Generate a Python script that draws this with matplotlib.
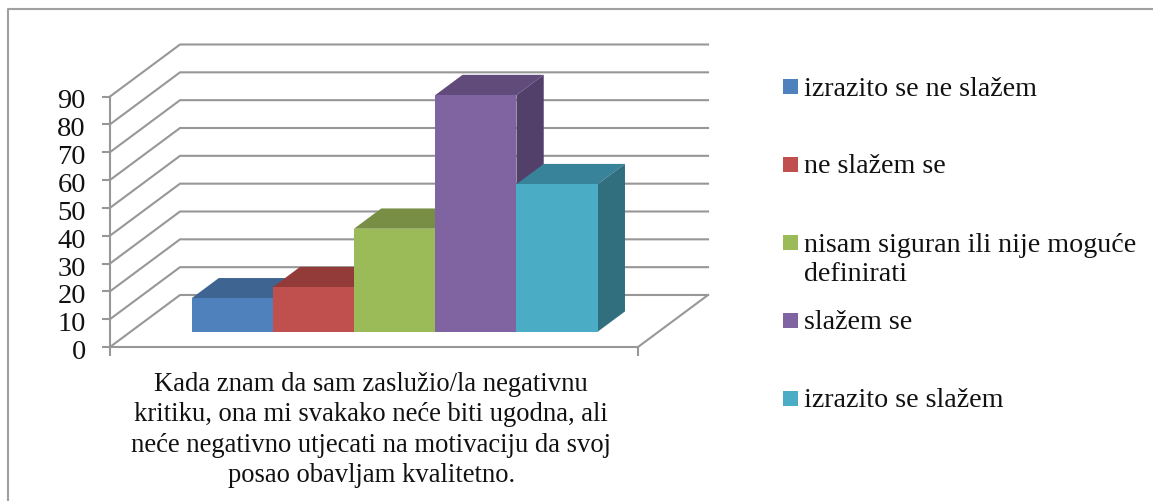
import matplotlib
matplotlib.use('Agg')
import matplotlib.pyplot as plt
from matplotlib.patches import Rectangle
from matplotlib.transforms import ScaledTranslation

## Data:
categories = ['izrazito se ne slažem', 'ne slažem se', 'nisam siguran ili nije moguće\ndefinirati', 'slažem se', 'izrazito se slažem']
values = [12, 16, 37, 85, 53]
y_ticks = [0, 10, 20, 30, 40, 50, 60, 70, 80, 90]
question = ('Kada znam da sam zaslužio/la negativnu\n'
            'kritiku, ona mi svakako neće biti ugodna, ali\n'
            'neće negativno utjecati na motivaciju da svoj\n'
            'posao obavljam kvalitetno.')

front_colors = ['#4F81BD', '#C0504D', '#9BBB59', '#8064A2', '#4BACC6']
top_colors = ['#3E6592', '#933B39', '#788E45', '#614B7B', '#38829A']
side_colors = ['#35557C', '#7E3331', '#667A3B', '#52406B', '#316E7E']

W, H = 1153, 502
GRID = '#979797'
plt.rcParams['font.family'] = ['Liberation Serif', 'DejaVu Serif']

fig = plt.figure(figsize=(W / 100, H / 100), dpi=100)

# front plane of the fake 3D box
ax = fig.add_axes([110 / W, 1 - 348 / H, 528 / W, 250.5 / H])
ax.set_xlim(-0.75, 5.75)
ax.set_ylim(0, 90)
ax.patch.set_alpha(0)

# depth of the box in data units (one bar = 81.2 px, 10 units = 27.8 px)
depth_x = 70 / 81.2
depth_y = 52 / 2.783
bar_d0 = 0.294
bar_d1 = 0.684


def shift(x, v, d):
    return x + d * depth_x, v + d * depth_y


# gridlines on side wall and back wall, floor
x0, x1 = ax.get_xlim()
for t in y_ticks:
    a = shift(x0, t, 0)
    b = shift(x0, t, 1)
    c = shift(x1, t, 1)
    ax.plot([a[0], b[0], c[0]], [a[1], b[1], c[1]], color=GRID, lw=1.5, clip_on=False, zorder=1)
a = shift(x1, 0, 0)
b = shift(x1, 0, 1)
ax.plot([a[0], b[0]], [a[1], b[1]], color=GRID, lw=1.5, clip_on=False, zorder=1)

# bars, left to right so that each one covers the one before
for i, v in enumerate(values):
    z = 2 + i
    xl, base = shift(i, 0, bar_d0)
    xr = xl + 1
    top = base + v
    dx = (bar_d1 - bar_d0) * depth_x
    dy = (bar_d1 - bar_d0) * depth_y
    ax.fill([xl, xr, xr + dx, xl + dx], [top, top, top + dy, top + dy],
            color=top_colors[i], lw=0, clip_on=False, zorder=z)
    ax.fill([xr, xr + dx, xr + dx, xr], [base, base + dy, top + dy, top],
            color=side_colors[i], lw=0, clip_on=False, zorder=z)
    ax.bar(xl, v, width=1, bottom=base, align='edge', color=front_colors[i], lw=0, zorder=z + 0.5, clip_on=False)

for s in ['top', 'right']:
    ax.spines[s].set_visible(False)
for s in ['left', 'bottom']:
    ax.spines[s].set_color(GRID)
    ax.spines[s].set_linewidth(1.5)
ax.set_yticks(y_ticks)
ax.set_xticks([x0, x1])
ax.set_xticklabels([])
ax.tick_params(axis='y', length=5.8, width=1.5, color=GRID, pad=11.5, labelsize=20.5, labelcolor='#111111')
ax.tick_params(axis='x', length=6.2, width=1.5, color=GRID, direction='out')

# tick labels sit a little under their ticks in the original
for lab in ax.get_yticklabels():
    lab.set_transform(lab.get_transform() + ScaledTranslation(0, -1.5 / 100, fig.dpi_scale_trans))

ax.set_xlabel(question, fontsize=19.2, linespacing=1.29, color='#111111', ha='center', va='top')
ax.xaxis.set_label_coords(0.495, -0.095)

# overlay in pixels for outer frame and legend
ov = fig.add_axes([0, 0, 1, 1])
ov.set_xlim(0, W)
ov.set_ylim(H, 0)
ov.axis('off')
ov.patch.set_alpha(0)
ov.plot([8, 8, W], [H, 10, 10], color='#A0A0A0', lw=1.5)

legend_y = [87.5, 165.5, 243.5, 321.5, 399]
for y, name, col in zip(legend_y, categories, front_colors):
    ov.add_patch(Rectangle((783, y - 7.5), 15, 15, color=col, lw=0))
    # baseline means the last line when there are two lines
    extra = 30 * name.count('\n')
    ov.text(804, y + 8 + extra, name, fontsize=20.2, color='#111111', va='baseline', ha='left', linespacing=1.25)

fig.savefig('out.png', dpi=100)
